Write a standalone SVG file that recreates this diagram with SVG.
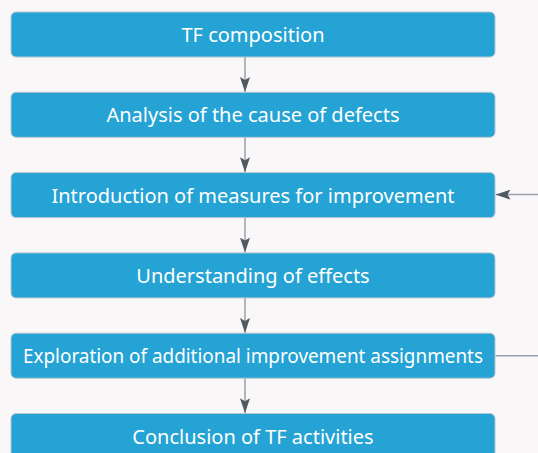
<svg xmlns="http://www.w3.org/2000/svg" width="538" height="453" viewBox="0 0 538 453">
<defs>
<style>
.box{fill:#24a3d4;stroke:#b9c6cf;stroke-width:1}
.lbl{font-family:"Noto Sans","DejaVu Sans",sans-serif;font-size:20px;fill:#ffffff;text-anchor:middle;dominant-baseline:central}
.ln{stroke:#9aa1a8;stroke-width:1.5;fill:none}
</style>
<marker id="ahb" viewBox="0 0 15 10" refX="15" refY="5" markerWidth="15" markerHeight="10" markerUnits="userSpaceOnUse" orient="auto">
<path d="M0,0 L15,5 L0,10 L3,5 z" fill="#4f5a63"/>
</marker>
</defs>
<rect width="538" height="453" fill="#f9f7f8"/>
<g id="connectors">
<line class="ln" x1="245" y1="57" x2="245" y2="92" marker-end="url(#ahb)"/>
<line class="ln" x1="245" y1="137.3" x2="245" y2="172.3" marker-end="url(#ahb)"/>
<line class="ln" x1="245" y1="217.6" x2="245" y2="252.6" marker-end="url(#ahb)"/>
<line class="ln" x1="245" y1="297.9" x2="245" y2="332.9" marker-end="url(#ahb)"/>
<line class="ln" x1="245" y1="378.2" x2="245" y2="413.2" marker-end="url(#ahb)"/>
<polyline class="ln" points="495.5,355.7 540,355.7"/>
<line class="ln" x1="540" y1="194.6" x2="495.5" y2="194.6" marker-end="url(#ahb)"/>
</g>
<g id="n1"><rect class="box" x="11" y="12" width="484" height="45" rx="5"/><text class="lbl" x="253" y="34.5">TF composition</text></g>
<g id="n2"><rect class="box" x="11" y="92.3" width="484" height="45" rx="5"/><text class="lbl" x="253" y="114.8">Analysis of the cause of defects</text></g>
<g id="n3"><rect class="box" x="11" y="172.6" width="484" height="45" rx="5"/><text class="lbl" x="253" y="195.1">Introduction of measures for improvement</text></g>
<g id="n4"><rect class="box" x="11" y="252.9" width="484" height="45" rx="5"/><text class="lbl" x="253" y="275.4">Understanding of effects</text></g>
<g id="n5"><rect class="box" x="11" y="333.2" width="484" height="45" rx="5"/><text class="lbl" x="253" y="355.7" textLength="460" lengthAdjust="spacingAndGlyphs">Exploration of additional improvement assignments</text></g>
<g id="n6"><rect class="box" x="11" y="413.5" width="484" height="45" rx="5"/><text class="lbl" x="253" y="436">Conclusion of TF activities</text></g>
</svg>
